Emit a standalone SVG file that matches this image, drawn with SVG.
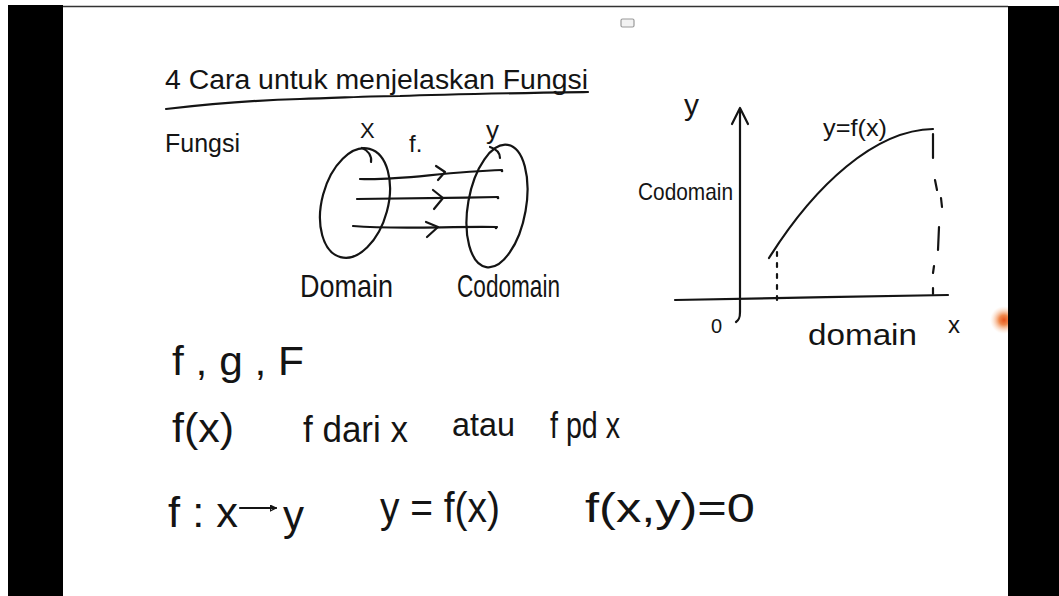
<svg xmlns="http://www.w3.org/2000/svg" width="1059" height="596" viewBox="0 0 1059 596">
<style>
.ink{fill:none;stroke:#141414;stroke-width:2.2;stroke-linecap:round;stroke-linejoin:round}
.dot{fill:none;stroke:#141414;stroke-width:2.2;stroke-linecap:round;stroke-dasharray:4 7}
.t{font-family:"Liberation Sans","DejaVu Sans",sans-serif;fill:#141414}
</style>
<defs>
<radialGradient id="glow" cx="0.5" cy="0.5" r="0.5">
<stop offset="0" stop-color="#e8551c"/>
<stop offset="0.35" stop-color="#f08a4e"/>
<stop offset="1" stop-color="#fbd9bf" stop-opacity="0"/>
</radialGradient>
<marker id="tri" viewBox="0 0 10 10" refX="9" refY="5" markerWidth="7" markerHeight="7" orient="auto" markerUnits="userSpaceOnUse">
<path d="M1,1 L9,5 L1,9 Z" fill="none" stroke="#141414" stroke-width="1.6"/>
</marker>
</defs>
<rect x="0" y="0" width="1059" height="596" fill="#ffffff"/>
<circle cx="1004" cy="320" r="14" fill="url(#glow)"/>
<rect x="8" y="5" width="55" height="591" fill="#000"/>
<rect x="1008" y="6" width="51" height="590" fill="#000"/>
<line x1="63" y1="6.5" x2="1008" y2="6.5" stroke="#333" stroke-width="1.5"/>
<rect x="621" y="19" width="13" height="8" rx="1.5" fill="#f2f2f2" stroke="#9a9a9a" stroke-width="1.2"/>

<g id="title">
<text class="t" x="165" y="89" font-size="27" textLength="423" lengthAdjust="spacingAndGlyphs">4 Cara untuk menjelaskan Fungsi</text>
<path class="ink" d="M166,109 C210,104 260,100 300,99 C340,98 370,96 400,96 C450,94 520,93 588,92"/>
</g>

<g id="fungsi-label">
<text class="t" x="165" y="152" font-size="25" textLength="75" lengthAdjust="spacingAndGlyphs">Fungsi</text>
</g>

<g id="domain-set">
<ellipse class="ink" cx="355" cy="203" rx="33" ry="56" transform="rotate(15 355 203)"/>
<path class="ink" d="M362,148 C368,150 372,156 371,162"/>
<text class="t" x="360" y="138" font-size="22">X</text>
<text class="t" x="300" y="297" font-size="32" textLength="93" lengthAdjust="spacingAndGlyphs">Domain</text>
</g>

<g id="codomain-set">
<ellipse class="ink" cx="497" cy="206" rx="29" ry="62" transform="rotate(10 497 206)"/>
<path class="ink" d="M490,147 C496,149 500,153 500,158"/>
<text class="t" x="486" y="139" font-size="26">y</text>
<text class="t" x="457" y="297" font-size="32" textLength="103" lengthAdjust="spacingAndGlyphs">Codomain</text>
</g>

<g id="connectors">
<text class="t" x="409" y="152" font-size="24">f.</text>
<path class="ink" d="M360,179 C400,181 440,172 502,170"/>
<path class="ink" d="M436,166 L445,172 L438,180"/>
<path class="ink" d="M357,199 C400,198 450,198 498,197"/>
<path class="ink" d="M433,190 L443,198 L434,209"/>
<path class="ink" d="M353,226 C400,230 450,226 497,227"/>
<path class="ink" d="M426,222 L438,227 L427,237"/>
<circle cx="502" cy="171" r="1.3" fill="#141414"/>
<circle cx="498" cy="198" r="1.3" fill="#141414"/>
<circle cx="496" cy="228" r="1.3" fill="#141414"/>
</g>

<g id="graph">
<path class="ink" d="M740,110 L740,312 C740,318 739,320 736,322"/>
<path class="ink" d="M732,124 L740,108 L748,124"/>
<path class="ink" d="M675,300 C760,299 860,296 948,295"/>
<path class="ink" d="M769,258 C815,185 875,130 933,129"/>
<path class="dot" d="M777,252 L777,300"/>
<path class="ink" d="M933,134 L933,158 M935,180 L937,190 M941,198 L942,207 M939,227 L938,250 M934,266 L933,273 M933,288 L933,294" stroke-width="2"/>
<text class="t" x="684" y="115" font-size="30">y</text>
<text class="t" x="638" y="200" font-size="24" textLength="95" lengthAdjust="spacingAndGlyphs">Codomain</text>
<text class="t" x="823" y="136" font-size="24" textLength="64" lengthAdjust="spacingAndGlyphs">y=f(x)</text>
<text class="t" x="711" y="333" font-size="20">0</text>
<text class="t" x="808" y="345" font-size="30" textLength="109" lengthAdjust="spacingAndGlyphs">domain</text>
<text class="t" x="948" y="333" font-size="24">x</text>
</g>

<g id="notation">
<text class="t" x="172" y="375" font-size="40" textLength="132" lengthAdjust="spacingAndGlyphs">f , g , F</text>
<text class="t" x="172" y="442" font-size="40" textLength="62" lengthAdjust="spacingAndGlyphs">f(x)</text>
<text class="t" x="303" y="442" font-size="36" textLength="105" lengthAdjust="spacingAndGlyphs">f dari x</text>
<text class="t" x="452" y="436" font-size="34" textLength="63" lengthAdjust="spacingAndGlyphs">atau</text>
<text class="t" x="550" y="438" font-size="36" textLength="70" lengthAdjust="spacingAndGlyphs">f pd x</text>
<text class="t" x="168" y="527" font-size="42" textLength="70" lengthAdjust="spacingAndGlyphs">f : x</text>
<path class="ink" d="M240,508 L276,508" marker-end="url(#tri)"/>
<text class="t" x="283" y="530" font-size="42">y</text>
<text class="t" x="380" y="522" font-size="42" textLength="120" lengthAdjust="spacingAndGlyphs">y = f(x)</text>
<text class="t" x="585" y="522" font-size="40" textLength="170" lengthAdjust="spacingAndGlyphs">f(x,y)=0</text>
</g>
</svg>
